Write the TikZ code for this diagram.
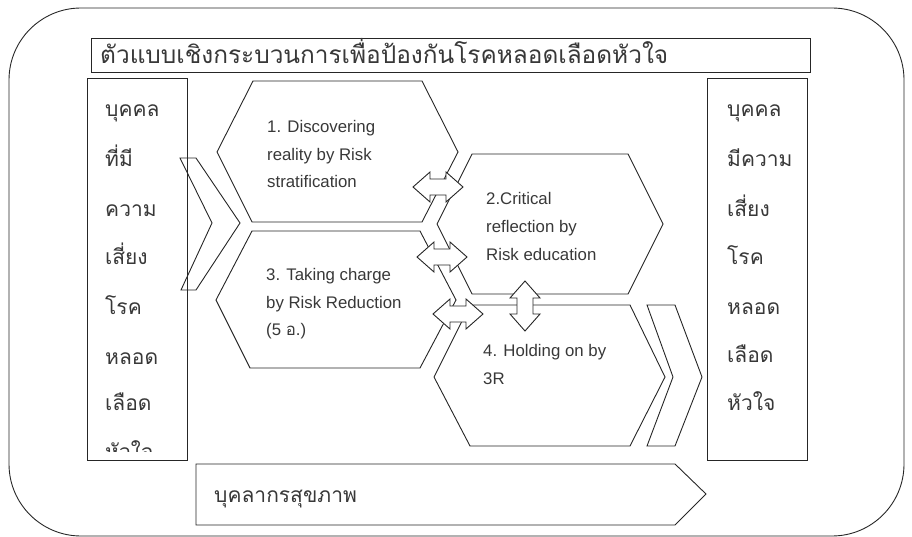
\documentclass[tikz,border=0pt]{standalone}
\usepackage{fontspec}
\setmainfont{Liberation Sans}
\newfontfamily\thai[Script=Thai]{Loma}
\begin{document}
\begin{tikzpicture}[x=1pt,y=-1pt,
  ln/.style={draw=black!85, line width=0.9pt, line join=miter},
  shapebox/.style={ln, fill=white},
  lbl/.style={inner sep=0pt, anchor=west, text=black!78, text height=12pt, text depth=3pt, font=\fontsize{16.8}{19}\selectfont},
  thailbl/.style={inner sep=0pt, anchor=base west, text=black!78, font=\thai\fontsize{21}{24}\selectfont},
  harrow/.pic={\path[shapebox] (-25,0) -- (-8,-15) -- (-8,-8) -- (8,-8) -- (8,-15) -- (25,0) -- (8,15) -- (8,8) -- (-8,8) -- (-8,15) -- cycle;}]
\useasboundingbox (0,0) rectangle (912,537);
% outer frame
\draw[ln] (9,8) [rounded corners=72] rectangle (904,536);
% title
\draw[ln] (91,38) rectangle (810,72);
\node[inner sep=0pt, anchor=base west, text=black!78, font=\thai\fontsize{24.4}{28}\selectfont] (title) at (100,64) {ตัวแบบเชิงกระบวนการเพื่อป้องกันโรคหลอดเลือดหัวใจ};
% side columns
\draw[ln] (87,78) rectangle (187,460);
\draw[ln] (707,78) rectangle (807,460);
\begin{scope}
  \clip (88,79) rectangle (186,451);
  \foreach \t/\y [count=\i] in {บุคคล/117,ที่มี/167,ความ/217,เสี่ยง/264,โรค/314,หลอด/364,เลือด/410,หัวใจ/459}
    \node[thailbl] (L\i) at (105,\y) {\t};
\end{scope}
\foreach \t/\y [count=\i] in {บุคคล/117,มีความ/167,เสี่ยง/217,โรค/265,หลอด/314,เลือด/362,หัวใจ/410}
  \node[thailbl] (R\i) at (727,\y) {\t};
% chevrons
\draw[ln] (180,158) -- (196,158) -- (240,223) -- (196,290) -- (181,290) -- (212,223) -- cycle;
\draw[ln] (647,305) -- (675,305) -- (702,377) -- (675,446) -- (647,446) -- (673,377) -- cycle;
% hexagons
\draw[ln] (217,152) -- (253,81) -- (422,81) -- (458,152) -- (422,222) -- (252,222) -- cycle;
\draw[ln] (437,224) -- (472,154) -- (628,154) -- (663,224) -- (628,294) -- (472,294) -- cycle;
\draw[ln] (216,300) -- (252,231) -- (420,231) -- (456,300) -- (420,368) -- (250,368) -- cycle;
\draw[ln] (434,377) -- (470,305) -- (630,305) -- (665,377) -- (630,446) -- (470,446) -- cycle;
% hexagon texts
\node[lbl] (h1a) at (267,128) {1. Discovering};
\node[lbl] (h1b) at (267,156) {reality by Risk};
\node[lbl] (h1c) at (267,183) {stratification};
\node[lbl] (h2a) at (486,200) {2.Critical};
\node[lbl] (h2b) at (486,228) {reflection by};
\node[lbl] (h2c) at (486,256) {Risk education};
\node[lbl] (h3a) at (266,276) {3. Taking charge};
\node[lbl] (h3b) at (266,304) {by Risk Reduction};
\node[lbl] (h3c) at (266,331) {(5 {\thai อ}.)};
\node[lbl] (h4a) at (483,352) {4. Holding on by};
\node[lbl] (h4b) at (483,380) {3R};
% double arrows
\coordinate (A1) at (438,187);
\coordinate (A2) at (442,257);
\coordinate (A3) at (458,314);
\coordinate (A4) at (525,306);
\pic at (A1) {harrow};
\pic at (A2) {harrow};
\pic at (A3) {harrow};
\pic[rotate=90] at (A4) {harrow};
% bottom arrow
\draw[ln] (196,464) -- (675,464) -- (706,494) -- (675,525) -- (196,525) -- cycle;
\node[thailbl] (staff) at (214,502) {บุคลากรสุขภาพ};
\end{tikzpicture}
\end{document}
